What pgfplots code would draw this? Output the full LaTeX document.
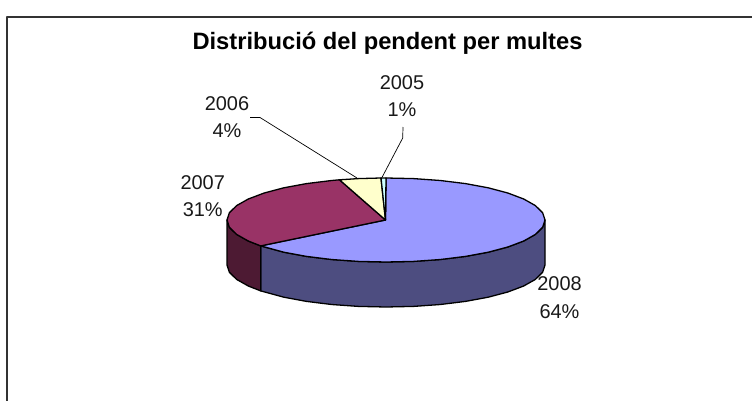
\documentclass[border=0pt]{standalone}
\usepackage{fontspec}
\setmainfont{Liberation Sans}
\usepackage{pgfplots}
\pgfplotsset{compat=1.18}

\definecolor{c2008}{HTML}{9999FF}
\definecolor{c2008side}{HTML}{4D4D80}
\definecolor{c2007}{HTML}{993366}
\definecolor{c2007side}{HTML}{4D1A33}
\definecolor{c2006}{HTML}{FFFFCC}
\definecolor{c2005}{HTML}{CCFFFF}

\tikzset{lab/.style={font=\fontsize{20}{27.5}\selectfont, align=center, inner sep=0pt, text=black!90}}

\begin{document}
\begin{tikzpicture}
\begin{axis}[
    hide axis,
    scale only axis,
    width=752bp,
    height=401bp,
    xmin=0, xmax=752,
    ymin=0, ymax=401,
    y dir=reverse,
    every axis plot/.append style={line join=round},
]

% keep the whole page, hide axis would shrink it to the drawing
\path (axis cs:0,0) -- (axis cs:752,401);

% chart frame (right and bottom edges fall outside the crop)
\addplot[draw=black!80, line width=1.5pt] coordinates {(7,401) (7,17) (752,17)};

% side walls
\addplot[draw=black, line width=1.3pt, fill=c2008side] coordinates {
    (545,220) (542.6,227.3) (535.4,234.4) (523.7,241) (507.8,247) (488.2,252.2)
    (465.5,256.4) (440.4,259.5) (413.6,261.4) (386,262) (358.4,261.4) (331.6,259.5)
    (306.5,256.4) (283.8,252.2) (260.7,245.9)
    (260.7,290.9) (283.8,297.2) (306.5,301.4) (331.6,304.5) (358.4,306.4) (386,307)
    (413.6,306.4) (440.4,304.5) (465.5,301.4) (488.2,297.2) (507.8,292) (523.7,286)
    (535.4,279.4) (542.6,272.3) (545,265)
} -- cycle;
\addplot[draw=black, line width=1.3pt, fill=c2007side] coordinates {
    (260.7,245.9) (248.3,241) (236.6,234.4) (229.4,227.3) (227,220)
    (227,265) (229.4,272.3) (236.6,279.4) (248.3,286) (260.7,290.9)
} -- cycle;

% top face, 2008
\addplot[draw=black, line width=1.3pt, fill=c2008] coordinates {
    (385.5,220) (386,178) (413.6,178.6) (440.4,180.5) (465.5,183.6) (488.2,187.8)
    (507.8,193) (523.7,199) (535.4,205.6) (542.6,212.7) (545,220) (542.6,227.3)
    (535.4,234.4) (523.7,241) (507.8,247) (488.2,252.2) (465.5,256.4) (440.4,259.5)
    (413.6,261.4) (386,262) (358.4,261.4) (331.6,259.5) (306.5,256.4) (283.8,252.2)
    (260.7,245.9)
} -- cycle;
% top face, 2007
\addplot[draw=black, line width=1.3pt, fill=c2007] coordinates {
    (385.5,220) (260.7,245.9) (248.3,241) (236.6,234.4) (229.4,227.3) (227,220)
    (229.4,212.7) (236.6,205.6) (248.3,199) (264.2,193) (283.8,187.8) (306.5,183.6)
    (331.6,180.5) (339.5,179.8)
} -- cycle;
% top face, 2006
\addplot[draw=black, line width=1.3pt, fill=c2006] coordinates {
    (385.5,220) (339.5,179.8) (358.4,178.6) (381,178)
} -- cycle;
% top face, 2005
\addplot[draw=black, line width=1.3pt, fill=c2005] coordinates {
    (385.5,220) (381,178) (386,178)
} -- cycle;

% leader lines
\addplot[draw=black, line width=0.7pt] coordinates {(250,117.5) (260,117.5) (357,178)};
\addplot[draw=black, line width=0.7pt] coordinates {(403,127) (402.7,138) (381.7,178)};

% labels
\node[font=\bfseries\fontsize{23.8}{26}\selectfont, inner sep=0pt] at (axis cs:387.5,43.5) {Distribució del pendent per multes};
\node[lab] at (axis cs:402,96.3) {2005\\1\%};
\node[lab] at (axis cs:227,117.3) {2006\\4\%};
\node[lab] at (axis cs:202.7,196.3) {2007\\31\%};
\node[lab] at (axis cs:559.5,297.5) {2008\\64\%};

\end{axis}
\end{tikzpicture}
\end{document}
